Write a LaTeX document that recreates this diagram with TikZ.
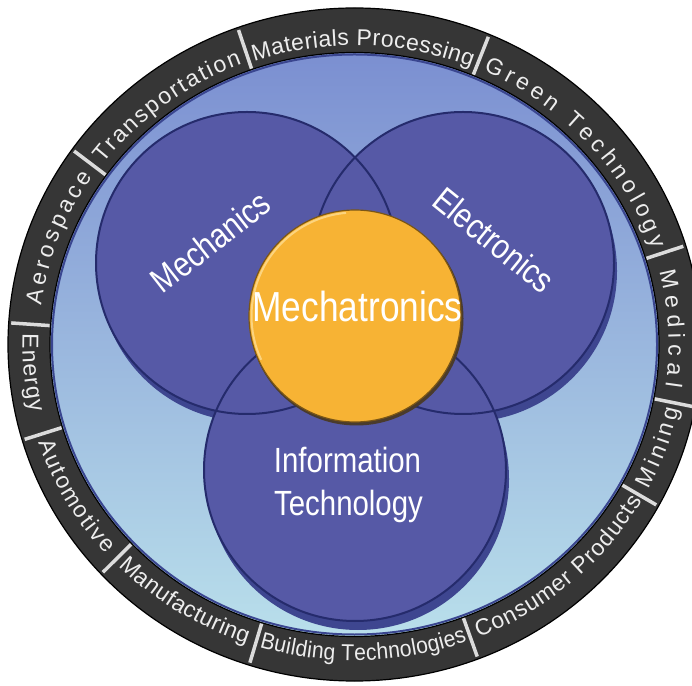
\documentclass[tikz,border=0pt]{standalone}
\usepackage{fontspec}
\setmainfont{Liberation Sans}
\newfontfamily\narrowfont[FakeStretch=0.84]{Liberation Sans}
\newfontfamily\ringnarrow[FakeStretch=0.92]{Liberation Sans}
\usetikzlibrary{decorations.text}
\definecolor{ringdark}{HTML}{363636}
\definecolor{ringtxt}{HTML}{EDEDED}
\definecolor{divcol}{HTML}{DCDCDC}
\definecolor{diskTop}{HTML}{7B8FD1}
\definecolor{diskMid}{HTML}{94B0DF}
\definecolor{diskBot}{HTML}{B9DFEB}
\definecolor{navyline}{HTML}{3A4690}
\definecolor{circFill}{HTML}{5659A6}
\definecolor{circLine}{HTML}{252B6C}
\definecolor{circShadow}{HTML}{3E4690}
\definecolor{orangeFill}{HTML}{F7B334}
\definecolor{orangeLine}{HTML}{7A5616}
\definecolor{orangeHi}{HTML}{FCD47E}
\definecolor{orangeSh}{HTML}{4A3B2C}
\newcommand\ringfont{\fontsize{23}{23}\selectfont\color{ringtxt}}
\newcommand\ringfontn{\ringnarrow\fontsize{23}{23}\selectfont\color{ringtxt}}
\newcommand\ringlabel[6]{\path[decorate,decoration={text along path,text={|#6|#5},text align=fit to path}] ([shift={(#1:#3 and #4)}]C) arc[start angle=#1,end angle=#2,x radius=#3,y radius=#4];}
\begin{document}
\begin{tikzpicture}[x=1pt,y=1pt,
  divider/.style={divcol, line width=3.5pt},
  vennshadow/.style={circle, minimum size=302pt, inner sep=0pt, fill=circShadow},
  venn/.style={circle, minimum size=302pt, inner sep=0pt, fill=circFill},
  vennline/.style={circLine, line width=2pt},
  lbl/.style={text=white, font=\narrowfont\fontsize{35}{35}\selectfont, inner sep=0pt},
  biglbl/.style={text=white, font=\narrowfont\fontsize{42}{42}\selectfont, inner sep=0pt}]
\useasboundingbox (0,0) rectangle (692,685);
\clip (0,0) rectangle (692,685);
\coordinate (C) at (354.5,340.5);
% outer ring
\fill[ringdark, draw=black, line width=1.2pt] (C) ellipse [x radius=346.5, y radius=336.5];
% inner disk
\fill[top color=diskTop, middle color=diskMid, bottom color=diskBot] (C) ellipse [x radius=304.5, y radius=292];
\draw[navyline, line width=2pt] (C) ellipse [x radius=302.5, y radius=290];
\draw[black, line width=1.2pt] (C) ellipse [x radius=304.5, y radius=292];
% dividers
\foreach \t in {109.7,67.1,17.1,-10.7,-28.7,-69.1,-107.7,223,196.5,176.3,144.6}
  \draw[divider] ([shift={(\t:305.5 and 293)}]C) -- ([shift={(\t:344 and 334)}]C);
% ring labels (clockwise, tops outward)
\ringlabel{143.0}{111.0}{314}{300}{Transportation}{\ringfont}
\ringlabel{108.7}{68.1}{313}{299}{Materials Processing}{\ringfont}
\ringlabel{65.8}{18.5}{314}{300}{Green Technology}{\ringfont}
\ringlabel{14.0}{-8.0}{314}{300}{Medical}{\ringfont}
\ringlabel{172.5}{146.0}{316}{300}{Aerospace}{\ringfont}
% ring labels (counter-clockwise, tops inward)
\ringlabel{-27.3}{-11.8}{331}{316}{Mining}{\ringfont}
\ringlabel{-68.0}{-29.7}{331}{316}{Consumer Products}{\ringfont}
\ringlabel{-106.7}{-70.1}{331}{316}{Building Technologies}{\ringfontn}
\ringlabel{224.5}{251.0}{331}{316}{Manufacturing}{\ringfont}
\ringlabel{198.0}{221.5}{332}{316}{Automotive}{\ringfont}
\ringlabel{178.0}{192.5}{332}{316}{Energy}{\ringfont}
% venn circles: shadows, fills, outlines
\node[vennshadow] (mechsh) at (250,414) {};
\node[vennshadow] (elecsh) at (466,414) {};
\node[vennshadow] (itsh) at (358,206) {};
\node[venn] (mech) at (247,422) {};
\node[venn] (elec) at (463,422) {};
\node[venn] (it) at (355,215) {};
\draw[vennline] (mech.center) circle[radius=151];
\draw[vennline] (elec.center) circle[radius=151];
\draw[vennline] (it.center) circle[radius=151];
% orange centre
\node[circle, minimum size=214pt, inner sep=0pt, fill=orangeSh] (orsh) at (356.5,366.5) {};
\node[circle, minimum size=212pt, inner sep=0pt, fill=orangeFill, draw=orangeLine, line width=1.2pt] (orange) at (355,369) {};
\draw[orangeHi, line width=2pt] ([shift={(95:103.5)}]orange.center) arc[start angle=95, end angle=205, radius=103.5];
% labels
\node[biglbl, anchor=base] (mtx) at (357.5,363) {Mechatronics};
\node[lbl, rotate=38] (mecht) at (210.5,443.5) {Mechanics};
\node[lbl, rotate=-39] (elect) at (494,445) {Electronics};
\node[lbl, anchor=base] (it1) at (347.5,212) {Information};
\node[lbl, anchor=base] (it2) at (348.5,170) {Technology};
\end{tikzpicture}
\end{document}
